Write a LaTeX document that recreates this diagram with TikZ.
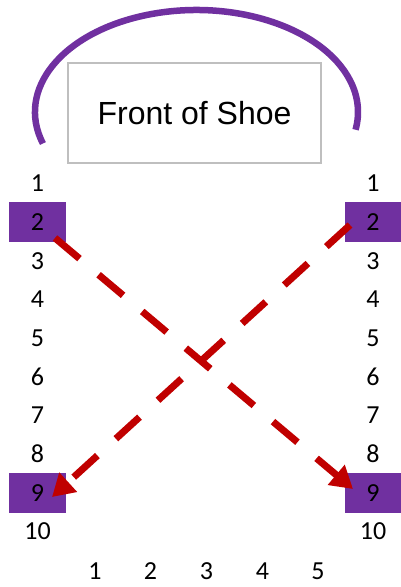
\documentclass[tikz,border=0pt]{standalone}
\usepackage{fontspec}
\setmainfont{Carlito}
\newfontfamily\arialfont{Liberation Sans}
\usetikzlibrary{arrows.meta}
\definecolor{shoepurple}{HTML}{7030A0}
\definecolor{lacered}{HTML}{C00000}
\definecolor{boxgray}{HTML}{BFBFBF}
\begin{document}
\begin{tikzpicture}[x=1pt,y=-1pt,
  num/.style={inner sep=0pt,font=\fontsize{26}{30}\selectfont},
  sq/.style={num,fill=shoepurple,minimum width=57pt,minimum height=40pt},
  frontbox/.style={draw=boxgray,line width=1.3pt,minimum width=253pt,minimum height=100pt,inner sep=0pt,font=\arialfont\fontsize{32}{38}\selectfont},
  toe/.style={draw=shoepurple,line width=6.5pt},
  lace/.style={draw=lacered,line width=7pt,dash pattern=on 32pt off 25pt,-{Triangle[length=22pt,width=25pt]}}
]
\useasboundingbox (0,0) rectangle (401,587);
% toe arc
\draw[toe] (196.5,112) ++(162:161.5 and 102) arc[start angle=162,end angle=370,x radius=161.5,y radius=102];
% front box
\node[frontbox] (front) at (194.5,113) {Front of Shoe};
% left and right columns
\foreach \i in {1,3,4,5,6,7,8,10} {
  \node[num] (L\i) at (37.5,{222+(\i-2)*38.7}) {\i};
  \node[num] (R\i) at (373,{222+(\i-2)*38.7}) {\i};
}
\node[sq] (L2) at (37.5,222) {2};
\node[sq] (R2) at (373,222) {2};
\node[sq] (L9) at (37.5,493) {9};
\node[sq] (R9) at (373,493) {9};
% bottom row
\foreach \j/\x in {1/95,2/150.5,3/206.5,4/262.5,5/318} {
  \node[num] (B\j) at (\x,571) {\j};
}
% laces
\coordinate (s1) at (55,238);
\coordinate (e1) at (353,489);
\coordinate (s2) at (350,225);
\coordinate (e2) at (52,497);
\draw[lace] (s1) -- (e1);
\draw[lace] (s2) -- (e2);
\end{tikzpicture}
\end{document}
